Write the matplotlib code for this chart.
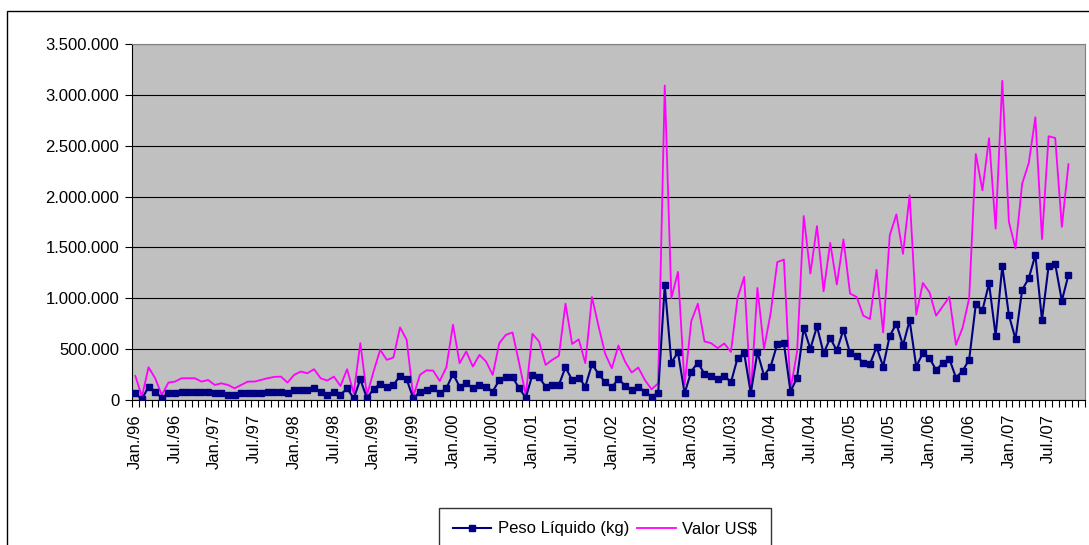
import numpy as np
import matplotlib
matplotlib.use("Agg")
import matplotlib.pyplot as plt
from matplotlib.ticker import FuncFormatter, FixedLocator
from matplotlib.patches import Rectangle

plt.rcParams['font.family'] = ['Liberation Sans', 'DejaVu Sans']

# Monthly values, Jan/96 .. Oct/07 (Nov/07 and Dec/07 are empty categories)
peso_kg = [66, 7, 132, 82, 20, 66, 66, 82, 82, 82, 82, 82,
           66, 66, 50, 50, 66, 66, 66, 66, 82, 82, 82, 66,
           99, 99, 99, 115, 82, 49, 82, 49, 115, 16, 204, 16,
           109, 158, 125, 148, 237, 204, 16, 82, 99, 115, 66, 115,
           257, 132, 164, 115, 148, 132, 82, 197, 224, 224, 115, 23,
           247, 224, 132, 148, 148, 322, 197, 220, 132, 352, 257, 174,
           125, 207, 141, 99, 132, 82, 33, 66, 1128, 368, 467, 66,
           280, 368, 257, 237, 207, 240, 174, 411, 460, 66, 470, 240,
           329, 549, 559, 82, 220, 707, 503, 724, 460, 608, 487, 691,
           460, 428, 368, 352, 520, 329, 631, 750, 536, 783, 329, 460,
           411, 296, 362, 405, 220, 285, 398, 940, 882, 1146, 632, 1317,
           834, 599, 1082, 1196, 1426, 786, 1318, 1336, 976, 1229]

valor_usd = [237, 33, 322, 214, 49, 171, 181, 214, 214, 214, 181, 197,
             148, 164, 148, 115, 148, 181, 181, 197, 214, 227, 230, 171,
             247, 280, 263, 303, 214, 191, 230, 138, 303, 66, 559, 49,
             280, 493, 395, 418, 714, 592, 33, 247, 292, 289, 187, 322,
             740, 362, 477, 329, 444, 378, 247, 559, 641, 664, 362, 49,
             651, 576, 345, 395, 434, 947, 551, 596, 362, 1013, 724, 454,
             312, 536, 378, 270, 319, 197, 105, 164, 3092, 1003, 1260, 148,
             773, 947, 576, 559, 510, 556, 472, 1003, 1210, 49, 1102, 503,
             855, 1355, 1381, 99, 477, 1809, 1243, 1710, 1069, 1546, 1135, 1579,
             1046, 1013, 829, 796, 1280, 664, 1621, 1825, 1437, 2013, 839, 1151,
             1059, 829, 921, 1013, 543, 710, 1002, 2419, 2062, 2574, 1685, 3138,
             1752, 1489, 2126, 2329, 2780, 1582, 2593, 2576, 1702, 2318]

tick_labels = ["Jan./96", "Jul./96", "Jan./97", "Jul./97", "Jan./98", "Jul./98",
               "Jan./99", "Jul./99", "Jan./00", "Jul./00", "Jan./01", "Jul./01",
               "Jan./02", "Jul./02", "Jan./03", "Jul./03", "Jan./04", "Jul./04",
               "Jan./05", "Jul./05", "Jan./06", "Jul./06", "Jan./07", "Jul./07"]

n_categories = 144
x = np.arange(len(peso_kg))
peso = np.array(peso_kg) * 1000
valor = np.array(valor_usd) * 1000

fig = plt.figure(figsize=(10.89, 5.45), dpi=100)
ax = fig.add_axes([132 / 1089, 145 / 545, (1085 - 132) / 1089, 356 / 545])
ax.set_facecolor('#C0C0C0')

# outer chart border (right and bottom edges fall outside the image)
fig.patches.append(Rectangle((7 / 1089, -0.1), 1.1, 1.1 - 11 / 545,
                             transform=fig.transFigure, fill=False,
                             edgecolor='black', linewidth=1.0))

ax.plot(x, peso, color='#000080', linewidth=1.5, marker='s', markersize=4,
        label='Peso Líquido (kg)', zorder=3)
ax.plot(x, valor, color='#FF00FF', linewidth=1.3, label='Valor US$', zorder=2)

ax.set_xlim(-0.5, n_categories - 0.5)
ax.set_ylim(0, 3500000)
ax.set_yticks(np.arange(0, 3500001, 500000))
ax.yaxis.set_major_formatter(FuncFormatter(lambda v, p: f"{int(v):,}".replace(",", ".")))
ax.yaxis.grid(True, color='black', linewidth=0.8)
ax.set_axisbelow(True)

ax.xaxis.set_major_locator(FixedLocator(np.arange(0, 6 * len(tick_labels), 6)))
ax.set_xticklabels(tick_labels, rotation=90)
ax.xaxis.set_minor_locator(FixedLocator(np.arange(-0.5, n_categories, 1)))
ax.tick_params(axis='x', which='major', length=0, pad=10, labelsize=12)
ax.tick_params(axis='x', which='minor', length=5, width=0.8, direction='out')
ax.tick_params(axis='y', length=5, width=0.8, labelsize=12, pad=4)

for side in ['top', 'right']:
    ax.spines[side].set_color('#808080')
for side in ['left', 'bottom']:
    ax.spines[side].set_color('black')

leg = fig.legend(loc='upper center', bbox_to_anchor=(605 / 1089, 1 - 508 / 545),
                 ncol=2, frameon=True, fancybox=False, fontsize=12,
                 handlelength=2.3, handletextpad=0.4, columnspacing=0.5,
                 borderpad=0.8, borderaxespad=0)
leg.get_frame().set_edgecolor('black')
leg.get_frame().set_linewidth(1.0)

fig.savefig('out.png', dpi=100)
